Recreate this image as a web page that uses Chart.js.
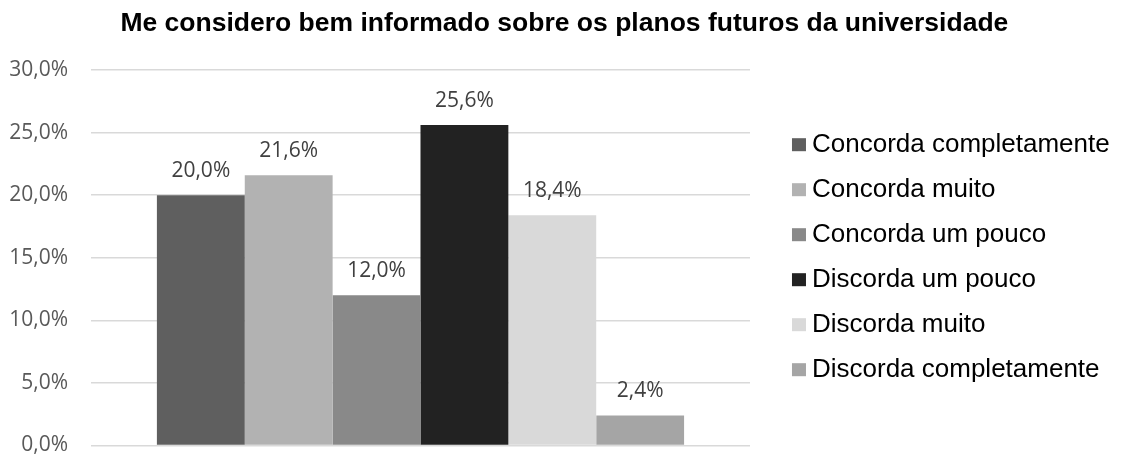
<!DOCTYPE html>
<html>
<head>
<meta charset="utf-8">
<script src="https://cdn.jsdelivr.net/npm/chart.js@4/dist/chart.umd.min.js"></script>
<style>
  html, body { margin: 0; padding: 0; background: #ffffff; }
  #wrap { width: 1124px; height: 457px; position: relative; }
</style>
</head>
<body>
<div id="wrap"><canvas id="c"></canvas></div>
<script>
const titleText = 'Me considero bem informado sobre os planos futuros da universidade';
const categories = [''];
const seriesLabels = ['Concorda completamente', 'Concorda muito', 'Concorda um pouco', 'Discorda um pouco', 'Discorda muito', 'Discorda completamente'];
const seriesValues = [20.0, 21.6, 12.0, 25.6, 18.4, 2.4];
const seriesColors = ['#5f5f5f', '#b2b2b2', '#898989', '#222222', '#d9d9d9', '#a5a5a5'];
const yMin = 0, yMax = 30, yStep = 5;

const fmt = v => v.toFixed(1).replace('.', ',') + '%';

const datasets = seriesLabels.map((lab, i) => ({
  label: lab,
  data: [seriesValues[i]],
  backgroundColor: seriesColors[i],
  borderWidth: 0,
  categoryPercentage: 0.8,
  barPercentage: 1.0
}));

const valueLabels = {
  id: 'valueLabels',
  afterDatasetsDraw(chart) {
    const ctx = chart.ctx;
    ctx.save();
    ctx.font = '21px "Open Sans"';
    ctx.fillStyle = '#404040';
    ctx.textAlign = 'center';
    ctx.textBaseline = 'alphabetic';
    chart.data.datasets.forEach((ds, i) => {
      const meta = chart.getDatasetMeta(i);
      meta.data.forEach((bar, j) => {
        ctx.fillText(fmt(ds.data[j]), bar.x, bar.y - 18);
      });
    });
    ctx.restore();
  }
};

const legendBoxes = {
  id: 'legendBoxes',
  afterDraw(chart) {
    const lg = chart.legend;
    if (!lg || !lg.legendHitBoxes) return;
    const ctx = chart.ctx;
    const bw = lg.options.labels.boxWidth;
    const half = lg.options.labels.font.size / 2;
    ctx.save();
    lg.legendItems.forEach((item, i) => {
      const hb = lg.legendHitBoxes[i];
      const textX = hb.left + bw + half;
      const cy = hb.top + hb.height / 2;
      ctx.fillStyle = chart.data.datasets[item.datasetIndex].backgroundColor;
      ctx.fillRect(textX - 20, cy - 6.5, 14, 13);
    });
    ctx.restore();
  }
};

new Chart(document.getElementById('c'), {
  type: 'bar',
  data: { labels: categories, datasets },
  options: {
    responsive: true,
    maintainAspectRatio: false,
    devicePixelRatio: 1,
    animation: false,
    events: [],
    layout: { padding: { left: 9, right: 4.3, top: 0, bottom: 0 } },
    scales: {
      x: { display: false },
      y: {
        min: yMin, max: yMax,
        afterFit(s) { s.width = 82; s.paddingBottom = 11.5; s.paddingTop = 0; },
        border: { display: false },
        grid: { color: '#d9d9d9', lineWidth: 1.5, drawTicks: false },
        ticks: {
          stepSize: yStep,
          padding: 23,
          color: '#595959',
          font: { family: 'Open Sans', size: 21 },
          callback: v => fmt(v)
        }
      }
    },
    plugins: {
      title: {
        display: true,
        text: titleText,
        color: '#000000',
        font: { family: 'Liberation Sans', size: 26.5, weight: 'bold' },
        padding: { top: 8, bottom: 30.2 }
      },
      legend: {
        position: 'right',
        align: 'center',
        fullSize: true,
        maxWidth: 374,
        title: { display: true, text: '', font: { size: 10, lineHeight: 1 }, padding: { top: 47.4, bottom: 0 } },
        labels: {
          color: '#000000',
          font: { family: 'Liberation Sans', size: 26 },
          boxWidth: 30,
          boxHeight: 14,
          padding: 19,
          generateLabels(chart) {
            return Chart.defaults.plugins.legend.labels.generateLabels(chart).map(l => Object.assign(l, {
              fillStyle: 'rgba(0,0,0,0)', strokeStyle: 'rgba(0,0,0,0)', lineWidth: 0
            }));
          }
        }
      },
      tooltip: { enabled: false }
    }
  },
  plugins: [valueLabels, legendBoxes]
});
</script>
</body>
</html>
